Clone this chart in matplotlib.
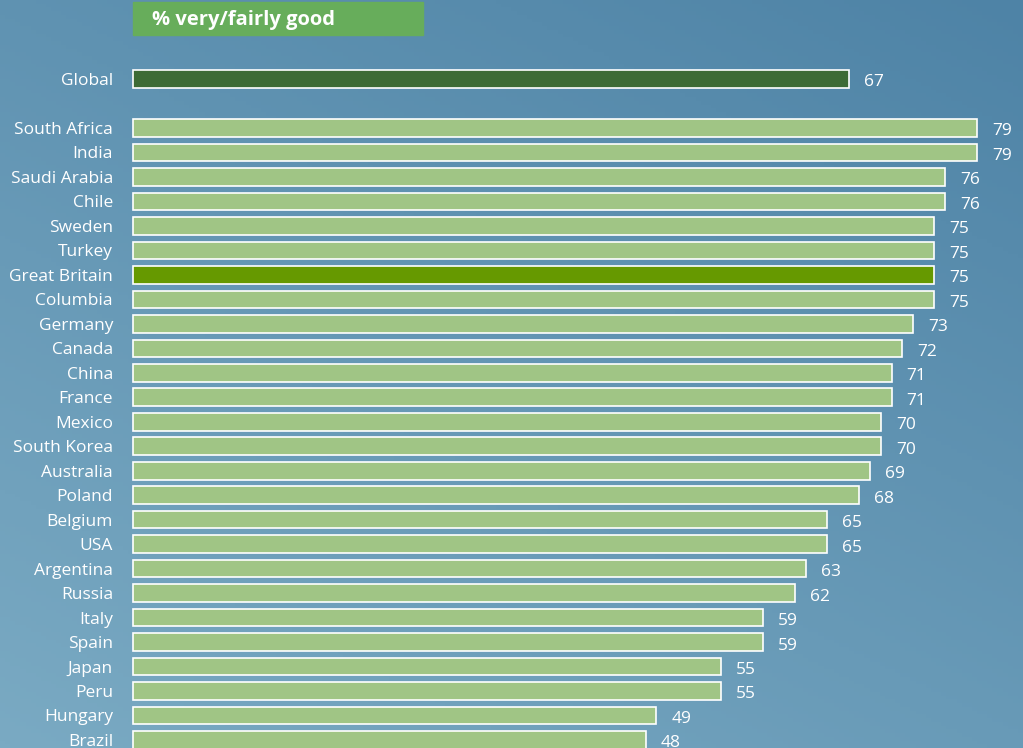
import matplotlib.pyplot as plt
import numpy as np
from matplotlib.colors import LinearSegmentedColormap

plt.rcParams["font.family"] = ["Open Sans", "DejaVu Sans"]

global_label = "Global"
global_value = 67
countries = [
    "South Africa", "India", "Saudi Arabia", "Chile", "Sweden", "Turkey",
    "Great Britain", "Columbia", "Germany", "Canada", "China", "France",
    "Mexico", "South Korea", "Australia", "Poland", "Belgium", "USA",
    "Argentina", "Russia", "Italy", "Spain", "Japan", "Peru", "Hungary",
    "Brazil",
]
values = [79, 79, 76, 76, 75, 75, 75, 75, 73, 72, 71, 71, 70, 70, 69, 68,
          65, 65, 63, 62, 59, 59, 55, 55, 49, 48]
header = "% very/fairly good"

bar_color = "#a0c585"
global_color = "#3d6b35"
gb_color = "#669900"
header_color = "#67ad5b"

fig = plt.figure(figsize=(10.23, 7.48), dpi=100)
ax = fig.add_axes([0, 0, 1, 1])

# pixel mapping: x=0 at 133px, 79 at 977px; row 0 at 128px, row 25 at 740px
px_x = (977 - 133) / 79
px_y = (740 - 128) / 25
xl = (-133 / px_x, (1023 - 133) / px_x)
yl = (-128 / px_y, (748 - 128) / px_y)
ax.set_xlim(xl)
ax.set_ylim(yl[1], yl[0])
ax.axis("off")

# background gradient, darker towards top right
yy, xx = np.mgrid[0:1:200j, 0:1:200j]
grad = 0.6 * yy + 0.4 * (1 - xx)
cmap = LinearSegmentedColormap.from_list("bg", ["#4e83a6", "#7aaac3"])
ax.imshow(grad, cmap=cmap, extent=[xl[0], xl[1], yl[1], yl[0]],
          aspect="auto", zorder=0)

# header box
ax.add_patch(plt.Rectangle((0, yl[0] + 2 / px_y), 290 / px_x, 33 / px_y,
                           color=header_color, zorder=1))
ax.text(19 / px_x, yl[0] + 20 / px_y, header, color="white", fontsize=14.5,
        fontweight="bold", va="center", ha="left", zorder=2)

ypos = np.arange(len(countries))
colors = [gb_color if c == "Great Britain" else bar_color for c in countries]
ax.barh(ypos, values, height=0.72, color=colors, edgecolor="white",
        linewidth=1.2, zorder=2)
ax.barh([-2], [global_value], height=0.72, color=global_color,
        edgecolor="white", linewidth=1.2, zorder=2)

lab_x = -20 / px_x
for y, name, v in zip(list(ypos) + [-2], countries + [global_label],
                      values + [global_value]):
    ax.text(lab_x, y + 0.08, name, color="white", fontsize=12.5, ha="right",
            va="center", zorder=3)
    ax.text(v + 15 / px_x, y + 0.14, str(v), color="white", fontsize=12.5,
            ha="left", va="center", zorder=3)

fig.savefig("out.png", dpi=100)
